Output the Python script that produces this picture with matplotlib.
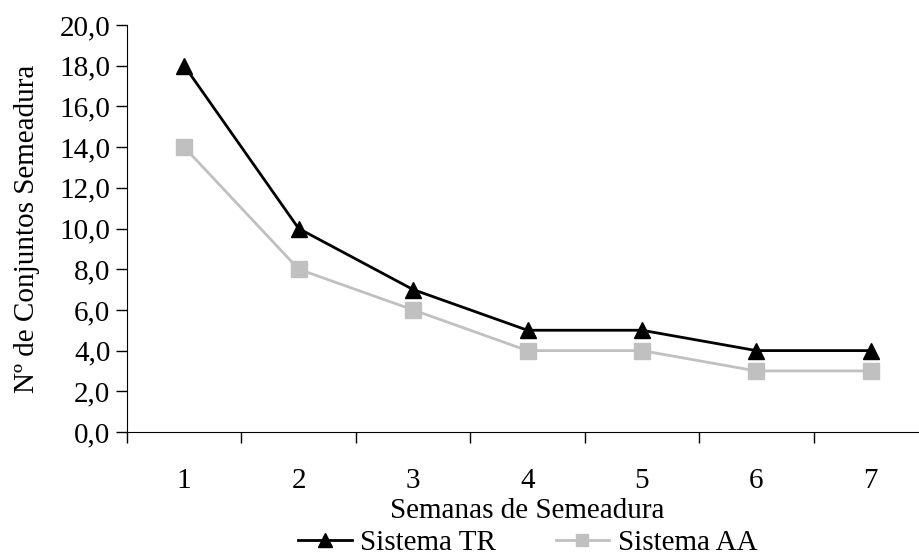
import numpy as np
import matplotlib.pyplot as plt
from matplotlib.ticker import FuncFormatter

# data
semanas = [1, 2, 3, 4, 5, 6, 7]
sistema_tr = [18, 10, 7, 5, 5, 4, 4]
sistema_aa = [14, 8, 6, 4, 4, 3, 3]

plt.rcParams['font.family'] = ['Liberation Serif', 'DejaVu Serif']
plt.rcParams['font.size'] = 21

fig = plt.figure(figsize=(9.19, 5.57), dpi=100)
ax = fig.add_axes([127/919, 1 - 432/557, 801/919, 407/557])

ax.plot(semanas, sistema_tr, color='black', lw=2, marker='^', ms=12,
        label='Sistema TR', zorder=3)
ax.plot(semanas, sistema_aa, color='#c0c0c0', lw=2, marker='s', ms=11,
        label='Sistema AA', zorder=2)

ax.set_xlim(0.5, 7.5)
ax.set_ylim(0, 20)
ax.set_yticks(np.arange(0, 21, 2))
ax.yaxis.set_major_formatter(FuncFormatter(lambda v, p: f'{v:.1f}'.replace('.', ',')))

# Excel style: ticks between categories, labels centred on categories
ax.set_xticks(np.arange(0.5, 8, 1))
ax.set_xticklabels([])
ax.set_xticks(semanas, minor=True)
ax.set_xticklabels([str(s) for s in semanas], minor=True)
ax.tick_params(axis='x', which='major', length=8, direction='out', width=1)
ax.tick_params(axis='x', which='minor', length=0, pad=26)
ax.tick_params(axis='y', length=8, direction='out', width=1, pad=4)

for s in ['top', 'right']:
    ax.spines[s].set_visible(False)

ax.set_xlabel('Semanas de Semeadura', labelpad=3)
ax.set_ylabel('Nº de Conjuntos Semeadura', labelpad=14)

ax.legend(loc='upper center', bbox_to_anchor=(0.5, -0.24), ncol=2, frameon=False,
          handlelength=1.85, handletextpad=0.28, columnspacing=2.05, borderaxespad=0,
          borderpad=0, markerscale=0.85)

fig.savefig('out.png', dpi=100)
